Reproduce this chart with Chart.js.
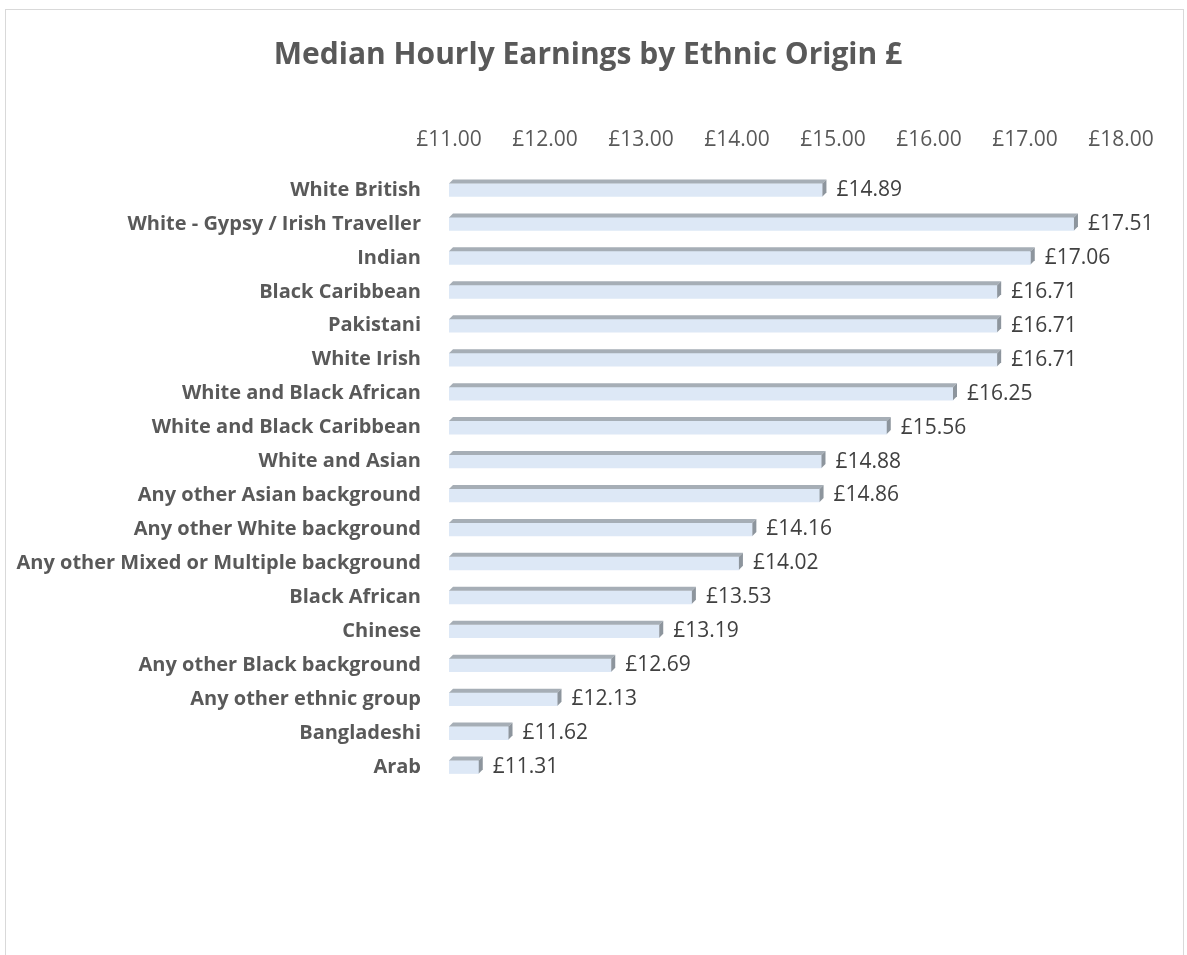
<!DOCTYPE html>
<html lang="en">

<head>
    <meta charset="UTF-8">
    <title>Median Hourly Earnings by Ethnic Origin</title>
    <script src="https://cdn.jsdelivr.net/npm/chart.js@4.4.1/dist/chart.umd.min.js"></script>
    <style>
        body { margin: 0; background: #fff; }
        #frame { position: absolute; left: 5px; top: 9px; width: 1177px; height: 980px; border: 1px solid #d9d9d9; }
        #chart { position: absolute; left: 0; top: 0; }
    </style>
</head>

<body>
    <div id="frame"></div>
    <canvas id="chart" width="1187" height="955"></canvas>
    <script>
        const categories = [
            'White British',
            'White - Gypsy / Irish Traveller',
            'Indian',
            'Black Caribbean',
            'Pakistani',
            'White Irish',
            'White and Black African',
            'White and Black Caribbean',
            'White and Asian',
            'Any other Asian background',
            'Any other White background',
            'Any other Mixed or Multiple background',
            'Black African',
            'Chinese',
            'Any other Black background',
            'Any other ethnic group',
            'Bangladeshi',
            'Arab'
        ];
        const earnings = [14.89, 17.51, 17.06, 16.71, 16.71, 16.71, 16.25, 15.56, 14.88,
            14.86, 14.16, 14.02, 13.53, 13.19, 12.69, 12.13, 11.62, 11.31];
        const axisMin = 11, axisMax = 18;

        const pounds = v => '£' + Number(v).toFixed(2);

        // fake 3D look like the Excel bars: grey top face + darker right side, then value label
        const bar3d = {
            id: 'bar3d',
            afterDatasetsDraw(chart) {
                const ctx = chart.ctx, d = 4;
                chart.getDatasetMeta(0).data.forEach((bar, i) => {
                    const top = bar.y - bar.height / 2,
                        bottom = bar.y + bar.height / 2;
                    ctx.save();
                    ctx.fillStyle = '#a6aeb6';
                    ctx.beginPath();
                    ctx.moveTo(bar.base, top);
                    ctx.lineTo(bar.base + d, top - d);
                    ctx.lineTo(bar.x + d, top - d);
                    ctx.lineTo(bar.x, top);
                    ctx.closePath();
                    ctx.fill();
                    ctx.fillStyle = '#8d959d';
                    ctx.beginPath();
                    ctx.moveTo(bar.x, top);
                    ctx.lineTo(bar.x + d, top - d);
                    ctx.lineTo(bar.x + d, bottom - d);
                    ctx.lineTo(bar.x, bottom);
                    ctx.closePath();
                    ctx.fill();
                    ctx.fillStyle = '#404040';
                    ctx.font = '21px "Open Sans"';
                    ctx.textAlign = 'left';
                    ctx.textBaseline = 'middle';
                    ctx.fillText(pounds(earnings[i]), bar.x + d + 10, bar.y);
                    ctx.restore();
                });
            }
        };

        const ctx = document.getElementById('chart').getContext('2d');
        const myChart = new Chart(ctx, {
            type: 'bar',
            data: {
                labels: categories,
                datasets: [{
                    data: earnings,
                    backgroundColor: '#dde8f6',
                    borderWidth: 0,
                    barThickness: 13,
                    base: axisMin
                }]
            },
            options: {
                indexAxis: 'y',
                responsive: false,
                animation: false,
                layout: { padding: { left: 0, right: 11, top: 0, bottom: 171 } },
                plugins: {
                    legend: { display: false },
                    tooltip: { enabled: false },
                    title: {
                        display: true,
                        text: 'Median Hourly Earnings by Ethnic Origin £',
                        color: '#595959',
                        font: { family: 'Open Sans', size: 30, weight: 'bold' },
                        padding: { top: 37, bottom: 10 }
                    }
                },
                scales: {
                    x: {
                        position: 'top',
                        min: axisMin,
                        max: axisMax,
                        grid: { display: false, drawTicks: false },
                        border: { display: false },
                        ticks: {
                            stepSize: 1,
                            padding: 20,
                            color: '#595959',
                            font: { family: 'Open Sans', size: 21 },
                            callback: v => pounds(v)
                        },
                        afterFit(scale) { scale.height = 90; }
                    },
                    y: {
                        grid: { display: false, drawTicks: false },
                        border: { display: false },
                        ticks: {
                            padding: 28,
                            color: '#595959',
                            font: { family: 'Open Sans', size: 20, weight: 'bold' }
                        },
                        afterFit(scale) { scale.width = 449; }
                    },
                    // empty spacer on the right so the plot ends before the frame edge
                    spacer: {
                        type: 'linear',
                        axis: 'y',
                        position: 'right',
                        grid: { display: false, drawTicks: false },
                        border: { display: false },
                        ticks: { display: false },
                        afterFit(scale) { scale.width = 55; }
                    }
                }
            },
            plugins: [bar3d]
        });
    </script>
</body>

</html>
